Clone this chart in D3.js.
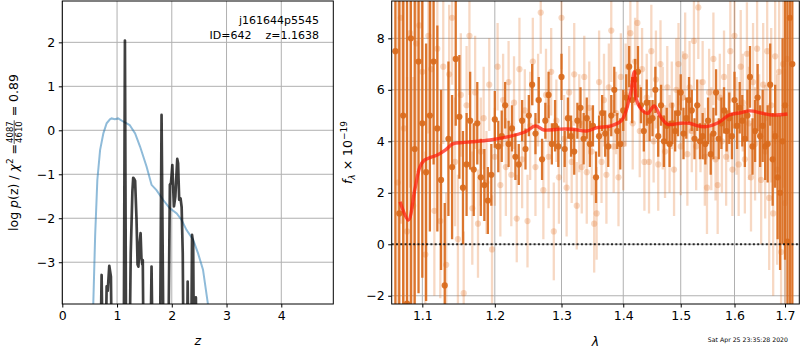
<!DOCTYPE html>
<html>
<head>
<meta charset="utf-8">
<script src="https://cdn.jsdelivr.net/npm/d3@7/dist/d3.min.js"></script>
<style>
  html, body { margin: 0; padding: 0; background: #fff; }
  svg { display: block; font-family: 'DejaVu Sans', sans-serif; }
</style>
</head>
<body>
<svg id="chart" width="800" height="350"></svg>
<script>
'use strict';

/* ── p(z) panel data ── */
const blueZ    = [0.55, 0.566, 0.60, 0.64, 0.69, 0.75, 0.81, 0.87, 0.90, 0.96, 1.02, 1.11, 1.23, 1.33, 1.42, 1.54, 1.63, 1.72, 1.84, 1.96, 2.09, 2.18, 2.27, 2.39, 2.48, 2.57, 2.66, 2.70];
const blueLogP = [-5, -3.95, -2.4, -1.13, -0.45, -0.07, 0.16, 0.25, 0.27, 0.25, 0.27, 0.2, 0.12, -0.07, -0.37, -0.83, -1.24, -1.36, -1.58, -1.77, -1.89, -2.04, -2.27, -2.49, -2.80, -3.17, -3.95, -5];

const blackZ    = [0.55, 0.687, 0.718, 0.748, 0.78, 0.81, 0.83, 0.858, 0.888, 0.912,
                   1.12, 1.144, 1.168, 1.22, 1.25, 1.28, 1.295, 1.31, 1.33, 1.355, 1.375, 1.39, 1.41, 1.43, 1.445, 1.46, 1.47, 1.49,
                   1.60, 1.63, 1.66, 1.78, 1.813, 1.855,
                   1.93, 1.965, 1.985, 2.01, 2.025, 2.04, 2.065, 2.10, 2.115, 2.135, 2.16, 2.18, 2.20, 2.22,
                   2.27, 2.29, 2.31, 2.35, 2.37, 2.39, 2.41, 2.43, 2.44, 2.46, 2.70];
const blackLogP = [-6, -6, -3.29, -6, -6, -3.55, -3.65, -3.08, -3.33, -6,
                   -6, 2.04, -6, -6, -2.8, -1.4, -1.08, -1.1, -1.15, -2.0, -3.05, -3.1, -2.6, -2.34, -2.9, -3.05, -2.95, -6,
                   -6, -3.1, -6, -6, 0.35, -6,
                   -6, -1.24, -1.2, -0.79, -1.3, -1.73, -1.5, -0.65, -0.75, -1.58, -1.55, -1.75, -2.8, -6,
                   -6, -3.44, -6, -6, -2.38, -2.57, -6, -6, -3.8, -6, -6];

const zTicks = [0, 1, 2, 3, 4];
const logpTicks = [-3, -2, -1, 0, 1, 2];

/* ── spectrum panel data (flux in 1e-19) ── */
const darkStart = 1.065, darkStep = 0.005;
const darkFlux = [
  7.5, 1.2, 5.0, -2.3, 8.0, 3.7, 7.1, 4.7, 2.8, 5.0,
  7.1, 4.5, 2.5, -1.6, 4.1, 3.0, 7.2, 4.95, 2.2, 3.1,
  4.8, 2.9, 4.7, 2.6, 2.3, 1.7, 2.7, 4.85, 3.8, 4.2,
  5.4, 3.9, 4.5, 3.4, 3.1, 4.8, 3.7, 5.0, 6.2, 4.3,
  5.6, 3.3, 4.8, 5.8, 3.9, 4.6, 3.8, 6.5, 3.7, 4.9,
  4.2, 3.6, 4.8, 5.3, 4.1, 4.9, 3.9, 4.6, 2.6, 4.2,
  5.1, 4.3, 3.8, 5.0, 6.0, 4.4, 3.9, 5.2, 5.7, 6.9,
  5.6, 6.4, 6.7, 5.4, 4.4, 5.5, 4.8, 4.9, 6.0, 4.2,
  5.4, 4.0, 4.6, 3.9, 4.7, 4.4, 5.1, 5.9, 4.3, 4.9,
  5.6, 5.2, 4.1, 5.4, 4.0, 4.2, 3.9, 4.8, 3.5, 4.3,
  5.9, 4.1, 4.7, 5.2, 4.4, 4.9, 4.2, 5.6, 4.6, 5.3,
  4.8, 4.1, 5.0, 6.5, 3.8, 4.4, 5.7, 4.2, 4.6, 3.8,
  3.9, 6.2, 3.3, 4.2, 2.6, 2.0, 4.0, 5.4, 0.1, 8.8,
  7.0];
const darkErr = [
  20, 20, 20, 20, 20, 12, 9, 6, 5, 4.5,
  4, 4, 3.5, 3.2, 3, 2.8, 2.6, 2.4, 2.2, 2.0,
  1.9, 1.8, 1.6, 1.5, 1.4, 1.3, 1.2, 1.1, 1.0, 1.0,
  0.9, 0.9, 0.9, 0.9, 0.8, 0.8, 0.8, 0.8, 0.8, 0.8,
  0.9, 0.8, 0.7, 0.9, 0.8, 1.0, 0.8, 0.9, 0.7, 0.8,
  0.8, 0.9, 0.7, 0.8, 1.0, 0.8, 0.9, 0.8, 1.0, 0.8,
  0.7, 0.9, 0.8, 0.8, 0.9, 0.7, 1.0, 0.8, 0.9, 0.8,
  0.9, 0.8, 1.0, 0.7, 0.8, 0.9, 0.8, 0.7, 0.9, 0.8,
  0.8, 1.0, 0.7, 0.9, 0.8, 0.8, 0.9, 0.7, 1.0, 0.8,
  0.9, 0.8, 0.8, 1.0, 0.7, 0.9, 0.8, 0.9, 0.8, 1.0,
  0.9, 0.8, 1.0, 0.9, 0.8, 1.0, 0.9, 1.1, 0.9, 1.0,
  1.0, 1.1, 1.0, 1.2, 1.1, 1.2, 1.3, 1.2, 1.4, 1.3,
  1.5, 1.6, 1.8, 2.0, 2.4, 3.0, 4.0, 6.0, 15, 20,
  20];

const lightStart = 1.068, lightStep = 0.004;
const lightFlux = [
  2.4, 8.8, 4.5, 0.5, 8.2, 1.5, 7.8, 8.5, 6.7, -0.4,
  8.1, 6.8, 1.3, 7.6, 0.9, 6.9, -0.8, 6.6, 8.8, 3.2,
  0.2, 5.8, -1.9, 5.4, 8.1, 1.4, 5.9, 0.8, 3.6, 4.9,
  2.4, 6.2, -0.2, 3.4, 6.9, 2.3, 5.6, 3.0, 6.3, 2.7,
  5.5, 1.0, 6.8, 3.3, 5.2, 0.9, 4.6, 7.1, 3.0, 5.6,
  9.0, 2.1, 5.8, 3.4, 6.7, 0.5, 4.8, 2.6, 8.8, 4.1,
  2.2, 5.9, 3.2, 6.6, 1.5, 4.7, 3.0, 6.5, 2.8, 5.3,
  3.6, 0.8, 1.2, 6.3, 3.2, 5.6, 2.7, 6.1, 8.3, 3.8,
  5.1, 2.6, 6.5, 3.9, 5.8, 6.9, 8.2, 4.7, 7.1, 8.6,
  4.4, 6.8, 3.2, 5.7, 3.2, 7.5, 4.0, 6.4, 3.1, 7.0,
  4.9, 3.6, 6.1, 3.9, 5.4, 2.9, 6.0, 7.0, 3.8, 5.7,
  7.3, 3.5, 6.1, 4.4, 7.9, 3.8, 9.2, 4.6, 6.3, 3.4,
  2.2, 5.9, 4.1, 7.2, 3.3, 2.3, 5.7, 4.0, 6.5, 3.4,
  5.1, 7.5, 2.9, 8.1, 4.6, 3.1, 6.9, 5.5, 3.3, 7.4,
  4.7, 2.6, 6.3, 3.9, 7.6, 4.3, 2.5, 6.2, 3.6, 7.5,
  1.8, 5.4, 1.2, 7.3, 2.9, 6.7, -0.3, 7.0, 1.6, 7.2];
const lightErr = [
  8, 8, 7, 6, 6, 5, 5, 4.5, 4, 4,
  3.8, 3.5, 3.3, 3.2, 3, 3, 2.8, 2.7, 2.6, 2.5,
  2.5, 2.4, 2.4, 2.3, 2.3, 2.2, 2.2, 2.1, 2.1, 2.0,
  2.0, 1.8, 2.1, 1.9, 1.7, 2.0, 1.8, 1.9, 1.6, 2.0,
  1.8, 1.7, 2.0, 1.9, 1.6, 1.8, 2.1, 1.7, 1.9, 1.8,
  1.6, 1.9, 1.8, 2.0, 1.7, 1.9, 1.6, 1.8, 2.0, 1.7,
  1.9, 1.8, 1.6, 2.0, 1.7, 1.9, 1.8, 1.6, 2.0, 1.8,
  1.7, 1.9, 1.8, 2.0, 1.6, 1.8, 1.9, 1.7, 2.0, 1.8,
  1.6, 1.9, 1.7, 1.8, 2.0, 1.6, 1.9, 1.8, 1.7, 2.0,
  1.8, 1.6, 1.9, 1.7, 2.0, 1.8, 1.6, 1.9, 1.8, 1.7,
  2.0, 1.8, 1.6, 1.9, 1.7, 1.8, 2.0, 1.6, 1.9, 1.8,
  1.7, 2.0, 1.8, 1.6, 1.9, 1.7, 2.0, 1.8, 1.6, 1.9,
  1.8, 1.7, 2.0, 1.8, 1.6, 1.9, 1.7, 2.0, 1.8, 1.9,
  1.9, 2.0, 1.8, 2.1, 1.9, 2.0, 2.2, 1.9, 2.1, 2.0,
  2.2, 2.1, 2.3, 2.2, 2.4, 2.3, 2.5, 2.4, 2.6, 2.7,
  2.8, 3.0, 3.2, 3.4, 3.7, 4.0, 4.4, 4.8, 5.2, 5.5];

const modelWave = [1.071, 1.0817, 1.090, 1.0967, 1.1027, 1.1133, 1.12, 1.1307, 1.141, 1.154, 1.167, 1.193,
                   1.22, 1.245, 1.260, 1.273, 1.295, 1.317, 1.340, 1.357, 1.38, 1.398, 1.411, 1.4188,
                   1.4225, 1.435, 1.442, 1.453, 1.464, 1.476, 1.50, 1.516, 1.531, 1.547, 1.569, 1.59,
                   1.612, 1.630, 1.654, 1.673, 1.705];
const modelFlux = [1.65, 0.94, 2.1, 3.0, 3.27, 3.4, 3.47, 3.66, 3.9, 3.95, 3.98, 4.05,
                   4.18, 4.37, 4.6, 4.44, 4.47, 4.47, 4.4, 4.53, 4.6, 4.83, 5.73, 6.7,
                   5.6, 5.15, 5.09, 5.37, 4.96, 4.67, 4.7, 4.7, 4.6, 4.57, 4.72, 5.02,
                   5.11, 5.18, 5.09, 5.02, 5.06];

const waveTicks = [1.1, 1.2, 1.3, 1.4, 1.5, 1.6, 1.7];
const fluxTicks = [-2, 0, 2, 4, 6, 8];

const idLine1 = 'j161644p5545';
const idLine2 = 'ID=642    z=1.1638';
const stamp = 'Sat Apr 25 23:35:28 2020';

/* ── layout ── */
const FS = 12.5;
const svg = d3.select('#chart');
const minus = v => String(v).replace('-', '\u2212');

const L = { x0: 62.3, x1: 333.3, y0: 1, y1: 304 };
const R = { x0: 391.7, x1: 799.3, y0: 1, y1: 304 };

const zScale = d3.scaleLinear().domain([0, 4.95]).range([L.x0, L.x1]);
const pScale = d3.scaleLinear().domain([-3.95, 2.94]).range([L.y1, L.y0]);
const wScale = d3.scaleLog().domain([1.0603, 1.7294]).range([R.x0, R.x1]);
const fScale = d3.scaleLinear().domain([-2.32, 9.45]).range([R.y1, R.y0]);

const defs = svg.append('defs');
function clip(id, box) {
  defs.append('clipPath').attr('id', id).append('rect')
    .attr('x', box.x0).attr('y', box.y0)
    .attr('width', box.x1 - box.x0).attr('height', box.y1 - box.y0);
}
clip('clipL', L);
clip('clipR', R);

/* ── grid + ticks ── */
function frame(box, x, y, xticks, yticks, xfmt, yfmt) {
  const g = svg.append('g');
  g.selectAll('.gx').data(xticks).join('line')
    .attr('x1', d => x(d)).attr('x2', d => x(d))
    .attr('y1', box.y0).attr('y2', box.y1)
    .attr('stroke', '#b0b0b0').attr('stroke-width', 1);
  g.selectAll('.gy').data(yticks).join('line')
    .attr('class', 'gy')
    .attr('x1', box.x0).attr('x2', box.x1)
    .attr('y1', d => y(d)).attr('y2', d => y(d))
    .attr('stroke', '#b0b0b0').attr('stroke-width', 1);

  const ax = svg.append('g').attr('class', 'axes')
    .attr('transform', `translate(0,${box.y1})`)
    .call(d3.axisBottom(x).tickValues(xticks).tickSize(3.5).tickPadding(3.5).tickFormat(xfmt));
  const ay = svg.append('g').attr('class', 'axes')
    .attr('transform', `translate(${box.x0},0)`)
    .call(d3.axisLeft(y).tickValues(yticks).tickSize(3.5).tickPadding(3.5).tickFormat(yfmt));
  [ax, ay].forEach(a => {
    a.select('.domain').remove();
    a.selectAll('text').attr('font-size', FS).attr('font-family', 'DejaVu Sans').attr('fill', '#000');
    a.selectAll('line').attr('stroke', '#000');
  });
  return g;
}

function border(box) {
  svg.append('rect')
    .attr('x', box.x0).attr('y', box.y0)
    .attr('width', box.x1 - box.x0).attr('height', box.y1 - box.y0)
    .attr('fill', 'none').attr('stroke', '#000').attr('stroke-width', 1);
}

/* ── left: p(z) ── */
frame(L, zScale, pScale, zTicks, logpTicks, d => minus(d), d => minus(d));

const lp = svg.append('g').attr('clip-path', 'url(#clipL)');
const zLine = d3.line().x(d => zScale(d[0])).y(d => pScale(d[1]));
lp.append('path')
  .datum(d3.zip(blueZ, blueLogP))
  .attr('d', zLine)
  .attr('fill', 'none').attr('stroke', '#1f77b4').attr('stroke-opacity', 0.5).attr('stroke-width', 2);
lp.append('path')
  .datum(d3.zip(blackZ, blackLogP))
  .attr('d', zLine)
  .attr('fill', 'none').attr('stroke', '#000').attr('stroke-opacity', 0.75)
  .attr('stroke-width', 2.7).attr('stroke-linejoin', 'round');

svg.append('text').attr('x', 319).attr('y', 24).attr('text-anchor', 'end')
  .attr('font-size', 11).text(idLine1);
svg.append('text').attr('x', 319).attr('y', 39).attr('text-anchor', 'end')
  .attr('font-size', 11).attr('xml:space', 'preserve').style('white-space', 'pre').text(idLine2);

svg.append('text').attr('x', (L.x0 + L.x1) / 2).attr('y', 345).attr('text-anchor', 'middle')
  .attr('font-size', FS).attr('font-style', 'italic').text('z');

/* left y label: log p(z) / χ² = 4087/4610 = 0.89 */
(function leftLabel() {
  const g = svg.append('g').attr('transform', `translate(17.5,${(L.y0 + L.y1) / 2}) rotate(-90)`);
  const t1 = g.append('text').attr('font-size', FS);
  t1.append('tspan').text('log ');
  t1.append('tspan').attr('font-style', 'italic').text('p');
  t1.append('tspan').text('(z) / ');
  t1.append('tspan').attr('font-style', 'italic').text('\u03c7');
  t1.append('tspan').attr('font-size', 9).attr('dy', -5).text('2');
  t1.append('tspan').attr('dy', 5).text(' = ');
  const w1 = t1.node().getComputedTextLength();

  const fs = 8.5;
  const num = g.append('text').attr('font-size', fs).attr('text-anchor', 'middle').attr('y', -4.6).text('4087');
  const den = g.append('text').attr('font-size', fs).attr('text-anchor', 'middle').attr('y', 4.4).text('4610');
  const wf = Math.max(num.node().getComputedTextLength(), den.node().getComputedTextLength()) + 2;

  const t2 = g.append('text').attr('font-size', FS).attr('xml:space', 'preserve').style('white-space', 'pre').text(' = 0.89');
  const w2 = t2.node().getComputedTextLength();

  const x0 = -(w1 + wf + w2) / 2;
  t1.attr('x', x0);
  num.attr('x', x0 + w1 + wf / 2);
  den.attr('x', x0 + w1 + wf / 2);
  g.append('line').attr('x1', x0 + w1).attr('x2', x0 + w1 + wf)
    .attr('y1', -3.3).attr('y2', -3.3).attr('stroke', '#000').attr('stroke-width', 0.7);
  t2.attr('x', x0 + w1 + wf);
})();

border(L);

/* ── right: spectrum ── */
frame(R, wScale, fScale, waveTicks, fluxTicks, d => d.toFixed(1), d => minus(d));

const rp = svg.append('g').attr('clip-path', 'url(#clipR)');
const lightWave = lightFlux.map((_, i) => lightStart + lightStep * i);
const darkWave = darkFlux.map((_, i) => darkStart + darkStep * i);

function errorbars(wave, flux, err, color, alpha) {
  const g = rp.append('g');
  const idx = d3.range(flux.length);
  g.selectAll('line').data(idx).join('line')
    .attr('x1', i => wScale(wave[i])).attr('x2', i => wScale(wave[i]))
    .attr('y1', i => fScale(flux[i] - err[i])).attr('y2', i => fScale(flux[i] + err[i]))
    .attr('stroke', color).attr('stroke-opacity', alpha).attr('stroke-width', 2.3);
  g.selectAll('circle').data(idx).join('circle')
    .attr('cx', i => wScale(wave[i])).attr('cy', i => fScale(flux[i]))
    .attr('r', 3.1)
    .attr('fill', color).attr('fill-opacity', alpha);
}
errorbars(lightWave, lightFlux, lightErr, '#e07020', 0.27);
errorbars(darkWave, darkFlux, darkErr, '#d96a1c', 0.92);

rp.append('path')
  .datum(d3.zip(modelWave, modelFlux))
  .attr('d', d3.line().x(d => wScale(d[0])).y(d => fScale(d[1])).curve(d3.curveCatmullRom))
  .attr('fill', 'none').attr('stroke', '#ff1a0a').attr('stroke-opacity', 0.72)
  .attr('stroke-width', 3.4).attr('stroke-linejoin', 'round');

rp.append('line')
  .attr('x1', R.x0).attr('x2', R.x1)
  .attr('y1', fScale(0)).attr('y2', fScale(0))
  .attr('stroke', '#000').attr('stroke-opacity', 0.8).attr('stroke-width', 2)
  .attr('stroke-dasharray', '2,2.3');

border(R);

svg.append('text').attr('x', (R.x0 + R.x1) / 2).attr('y', 346).attr('text-anchor', 'middle')
  .attr('font-size', FS).attr('font-style', 'italic').text('\u03bb');

/* right y label: f_λ × 10^-19 */
(function rightLabel() {
  const g = svg.append('g').attr('transform', `translate(352,${(R.y0 + R.y1) / 2}) rotate(-90)`);
  const t = g.append('text').attr('font-size', FS).attr('text-anchor', 'middle');
  t.append('tspan').attr('font-style', 'italic').text('f');
  t.append('tspan').attr('font-size', 9).attr('font-style', 'italic').attr('dy', 2.5).text('\u03bb');
  t.append('tspan').attr('dy', -2.5).text(' \u00d7 10');
  t.append('tspan').attr('font-size', 9).attr('dy', -5).text('\u221219');
})();

svg.append('text').attr('x', 788).attr('y', 342).attr('text-anchor', 'end')
  .attr('font-size', 6.2).text(stamp);
</script>
</body>
</html>
